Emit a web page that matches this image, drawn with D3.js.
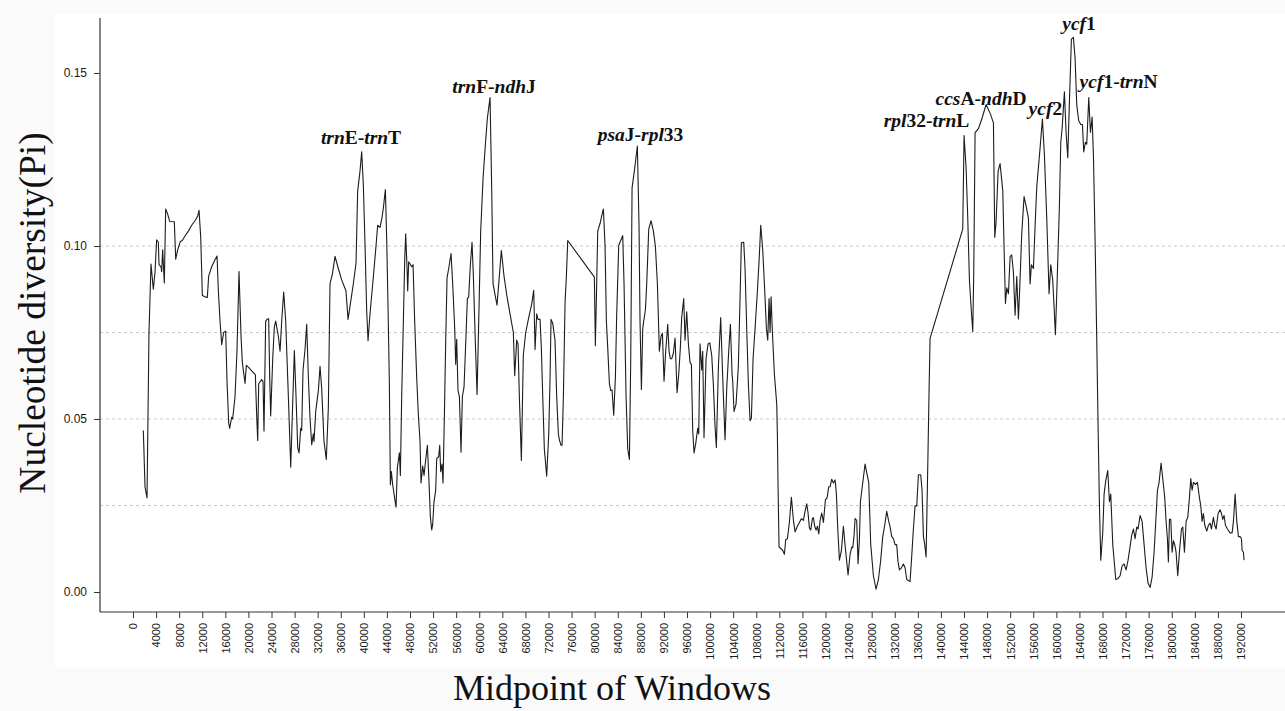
<!DOCTYPE html>
<html>
<head>
<meta charset="utf-8">
<script src="https://cdn.jsdelivr.net/npm/d3@7"></script>
<style>
  html, body { margin: 0; padding: 0; background: #ffffff; }
  svg { display: block; }
  .serif { font-family: "Liberation Serif", "Times New Roman", Times, serif; }
  .sans { font-family: "Liberation Sans", Arial, Helvetica, sans-serif; }
</style>
</head>
<body>
<svg id="chart" width="1285" height="711"></svg>
<script>
// ---------------- DATA ----------------
// Midpoint of each sliding window (bp)
const windowMidpoints = [
  1790,2080,2430,2770,3120,3520,3810,4100,4390,4510,4850,4970,5140,5430,5660,6010,6360,7160,7400,7740,
  8200,8550,9010,9590,10170,10860,11210,11440,11730,12020,12480,12880,13110,13630,14210,14560,14790,15080,15370,15710,
  16060,16290,16580,16750,17100,17270,17680,18020,18370,18720,18950,19410,19640,19990,20570,21200,21430,21610,21780,22300,
  22530,22700,22990,23220,23510,23690,23860,24210,24490,24730,25190,25480,25770,26110,26460,26920,27330,27610,27960,28250,
  28540,28770,29060,29230,29460,29810,30100,30390,30680,30970,31250,31370,31660,32120,32410,32700,
  33100,33500,33850,34140,34540,35010,35580,36160,36910,37260,37610,38180,38650,38930,39340,39630,39920,40210,40490,40730,
  41070,41540,42000,42400,42810,43150,43380,43730,43960,44190,44420,44600,44770,45000,45290,45580,45810,46160,46330,46560,
  46850,47080,47250,47490,47600,47770,48010,48290,48530,48810,49160,49450,49740,49910,50200,50430,50780,51010,51300,51530,
  51760,51930,52160,52450,52630,52970,53150,53320,53550,53720,53960,54190,54420,54760,55110,55400,55750,55920,56090,56320,
  56560,56840,57080,57360,57650,57940,58170,58460,58750,58980,59330,59620,59910,60250,60660,61060,61410,61870,62160,62390,
  62740,63080,63430,63830,
  64290,64760,65330,65910,66140,66490,66720,66950,67300,67640,68050,68570,69090,69440,69670,69960,70190,70530,70760,71000,
  71280,71690,72040,72270,72440,72730,73130,73420,73710,73880,74170,74350,74580,74870,75100,75330,79950,80120,80350,80530,
  80930,81220,81510,81800,82030,82260,82550,82780,83010,83300,83590,83820,84170,84570,84860,85090,85440,85730,86020,86250,
  86480,86880,87400,87690,87860,88100,88330,88500,88790,89020,89370,89770,90180,90520,90870,91210,91500,91740,92020,92310,
  92660,92890,93120,93350,93640,93930,94280,94570,94850,
  95080,95430,95660,95950,96240,96530,96760,96990,97220,97510,97860,98030,98260,98550,98720,98950,99300,99650,99940,100280,
  100570,100860,101090,101440,101840,102190,102590,102880,103230,103520,103810,103920,104150,104500,104900,105190,105420,105830,106060,106350,
  106640,106930,107160,107450,107790,108200,108490,108780,109120,109470,109760,109990,110220,110390,110570,110800,111140,111550,111660,111780,
  111950,112300,112590,112880,113110,113400,113740,114090,114440,114730,115130,115480,115820,116170,116460,116750,116980,117210,117440,117730,
  117900,118130,118370,118600,118830,119060,119350,119640,119980,120270,120560,120790,121080,121370,121660,121890,122120,122410,122760,123100,
  123390,123680,123910,124260,124550,124720,124950,125120,125410,125640,125880,126050,126450,126860,
  127140,127490,127840,128300,128760,129170,129570,129920,130260,130610,130960,131190,131480,131770,132050,132340,132570,132810,133150,133500,
  133790,134080,134650,134940,135230,135520,135810,136100,136500,136730,136970,137200,137430,137720,137950,138120,143780,144010,144360,144650,
  144940,145230,145520,145690,145920,146500,147080,147830,148520,149100,149330,149560,149910,150250,150720,150950,151180,151410,151700,151990,
  152270,152560,152850,153140,153430,153660,154010,154410,154760,155160,155450,155680,156030,156320,156610,157180,157590,157940,158340,158740,
  159030,159380,159840,160190,160530,160770,161000,161400,161690,161980,162270,162610,162960,163250,163540,163880,164230,164520,164750,165040,
  165270,165620,165910,166200,166430,166720,167000,167240,167470,167700,168040,168280,168560,168910,169200,169430,169780,170010,170300,170640,
  171050,171390,171740,172090,172430,172780,173070,173360,173650,173940,174170,174510,174860,175210,175550,175900,176250,176590,176940,177230,
  177520,177810,178150,178440,178790,179020,179250,179420,179600,179830,180060,180290,180520,180750,181040,181330,181680,181910,182200,182490,
  182780,183060,183300,183530,183760,184100,184450,184800,185030,185260,185490,185720,186070,186360,186650,186880,187220,187450,187690,188030,
  188380,188610,188840,189070,189300,189650,190110,190460,190690,190980,191270,191560,191850,192080,192190,192420,192540
];

// Nucleotide diversity (Pi) of each window
const piValues = [
  .0467,.0304,.0272,.0750,.0948,.0875,.0924,.1018,.1011,.0946,.0940,.0926,.0989,.0893,.1107,.1092,.1071,.1070,.0962,.0989,
  .1013,.1016,.1029,.1043,.1060,.1076,.1087,.1103,.1027,.0857,.0853,.0851,.0913,.0940,.0960,.0971,.0870,.0783,.0715,.0750,
  .0754,.0609,.0489,.0473,.0505,.0500,.0565,.0696,.0926,.0739,.0663,.0603,.0655,.0650,.0639,.0628,.0511,.0438,.0602,.0614,
  .0609,.0465,.0783,.0788,.0790,.0620,.0509,.0674,.0766,.0783,.0739,.0696,.0783,.0867,.0783,.0565,.0361,.0511,.0698,.0565,
  .0418,.0402,.0473,.0467,.0641,.0701,.0774,.0620,.0500,.0426,.0457,.0435,.0522,.0582,.0652,.0587,
  .0435,.0383,.0533,.0891,.0918,.0970,.0935,.0902,.0870,.0788,.0826,.0891,.0951,.1158,.1217,.1272,.1174,.1000,.0815,.0726,
  .0804,.0891,.0978,.1060,.1054,.1082,.1109,.1163,.1022,.0826,.0609,.0310,.0348,.0310,.0277,.0245,.0359,.0402,.0337,.0565,
  .0783,.0957,.1035,.0935,.0870,.0954,.0948,.0940,.0946,.0783,.0620,.0511,.0435,.0315,.0364,.0337,.0391,.0424,.0315,.0217,
  .0179,.0196,.0261,.0293,.0386,.0391,.0424,.0348,.0370,.0315,.0511,.0728,.0908,.0940,.0978,.0891,.0761,.0658,.0730,.0582,
  .0565,.0404,.0565,.0592,.0717,.0848,.0853,.0946,.1011,.0913,.0717,.0571,.0783,.1043,.1196,.1293,.1370,.1429,.1163,.0891,
  .0859,.0829,.0902,.0987,
  .0913,.0859,.0804,.0750,.0625,.0728,.0717,.0565,.0380,.0685,.0750,.0793,.0832,.0872,.0701,.0804,.0788,.0788,.0707,.0565,
  .0413,.0335,.0457,.0620,.0788,.0777,.0728,.0565,.0457,.0440,.0424,.0424,.0565,.0837,.0913,.1016,.0910,.0712,.0891,.1043,
  .1065,.1087,.1107,.1000,.0783,.0707,.0603,.0582,.0584,.0511,.0620,.0804,.1002,.1018,.1030,.0891,.0565,.0413,.0383,.0674,
  .1168,.1217,.1289,.1054,.0783,.0585,.0761,.0783,.0815,.0891,.1049,.1073,.1043,.1000,.0891,.0696,.0739,.0748,.0609,.0696,
  .0774,.0696,.0674,.0674,.0690,.0734,.0576,.0630,.0707,
  .0793,.0848,.0728,.0810,.0717,.0663,.0658,.0467,.0402,.0429,.0473,.0457,.0717,.0641,.0696,.0446,.0674,.0717,.0720,.0685,
  .0598,.0478,.0418,.0652,.0793,.0620,.0440,.0587,.0696,.0774,.0630,.0609,.0522,.0543,.0652,.0848,.1009,.1011,.0935,.0761,
  .0598,.0495,.0502,.0674,.0761,.0870,.0957,.1060,.0989,.0870,.0761,.0728,.0848,.0750,.0853,.0750,.0630,.0543,.0457,.0304,
  .0130,.0125,.0120,.0109,.0152,.0154,.0201,.0274,.0207,.0174,.0190,.0201,.0212,.0207,.0234,.0255,.0228,.0185,.0179,.0212,
  .0215,.0190,.0179,.0190,.0168,.0207,.0228,.0201,.0266,.0272,.0304,.0304,.0326,.0315,.0324,.0283,.0185,.0092,.0120,.0190,
  .0136,.0087,.0049,.0109,.0130,.0128,.0163,.0212,.0207,.0082,.0152,.0261,.0315,.0370,
  .0345,.0317,.0137,.0047,.0008,.0036,.0092,.0160,.0193,.0233,.0204,.0188,.0160,.0154,.0137,.0137,.0087,.0064,.0070,.0081,
  .0070,.0036,.0030,.0103,.0182,.0249,.0249,.0339,.0339,.0294,.0160,.0137,.0101,.0362,.0587,.0733,.1049,.1319,.1227,.1081,
  .0901,.0822,.0753,.0924,.1328,.1339,.1367,.1409,.1384,.1356,.1025,.1070,.1216,.1238,.1160,.0991,.0834,.0879,.0862,.0969,
  .0974,.0924,.0800,.0912,.0789,.0879,.1036,.1143,.1115,.1081,.0890,.0946,.0935,.1058,.1171,.1283,.1367,.1261,.1081,.0862,
  .0946,.0901,.0744,.0924,.1115,.1300,.1339,.1446,.1328,.1255,.1418,.1598,.1603,.1542,.1407,.1362,.1351,.1351,.1272,.1300,
  .1294,.1429,.1328,.1373,.1261,.1013,.0733,.0474,.0249,.0092,.0171,.0283,.0322,.0351,.0261,.0283,.0137,.0092,.0036,.0038,
  .0047,.0075,.0081,.0064,.0092,.0131,.0165,.0182,.0154,.0188,.0182,.0221,.0204,.0137,.0070,.0025,.0013,.0042,.0115,.0204,
  .0294,.0317,.0373,.0328,.0272,.0204,.0154,.0087,.0210,.0210,.0115,.0148,.0137,.0115,.0047,.0115,.0182,.0188,.0115,.0204,
  .0216,.0272,.0328,.0294,.0317,.0311,.0317,.0272,.0249,.0204,.0227,.0193,.0176,.0193,.0199,.0182,.0216,.0193,.0182,.0227,
  .0238,.0227,.0210,.0221,.0193,.0182,.0171,.0171,.0204,.0283,.0204,.0160,.0160,.0154,.0120,.0115,.0092
];

// Axis ticks
const xTickValues = d3.range(0, 192001, 4000);
const yTickValues = [0, 0.05, 0.10, 0.15];
const gridValues = [0.025, 0.05, 0.075, 0.10];

// Hot-spot labels: text pieces [text, italic] and anchor (bp, Pi) of their baseline centre
const labelParts = [
  [["trn", true], ["E-", false], ["trn", true], ["T", false]],
  [["trn", true], ["F-", false], ["ndh", true], ["J", false]],
  [["psa", true], ["J-", false], ["rpl", true], ["33", false]],
  [["rpl", true], ["32-", false], ["trn", true], ["L", false]],
  [["ccs", true], ["A-", false], ["ndh", true], ["D", false]],
  [["ycf", true], ["2", false]],
  [["ycf", true], ["1", false]],
  [["ycf", true], ["1-", false], ["trn", true], ["N", false]]
];
const labelBp = [39510, 62560, 87950, 137510, 146960, 158100, 163940, 170790];
const labelPi = [0.1295, 0.1443, 0.1304, 0.1344, 0.1408, 0.1379, 0.1624, 0.1457];

const xTitle = "Midpoint of Windows";
const yTitle = "Nucleotide diversity(Pi)";

// ---------------- DRAW ----------------
const W = 1285, H = 711;
const svg = d3.select("#chart");

// subtle page tone with white panel
svg.append("rect").attr("width", W).attr("height", H).attr("fill", "#fafafa");
svg.append("rect").attr("x", 55).attr("y", 14).attr("width", W - 55).attr("height", 654).attr("fill", "#ffffff");

const x = d3.scaleLinear().domain([0, 192000]).range([133, 1241]);
const y = d3.scaleLinear().domain([0, 0.15]).range([592, 73]);

const axisX0 = 100, axisY0 = 612, axisTop = 18;

// grid
svg.append("g").selectAll("line").data(gridValues).join("line")
  .attr("x1", axisX0).attr("x2", W)
  .attr("y1", d => y(d)).attr("y2", d => y(d))
  .attr("stroke", "#c9c9c9").attr("stroke-width", 1)
  .attr("stroke-dasharray", "3,3");

// y axis
const gy = svg.append("g").attr("transform", `translate(${axisX0},0)`)
  .call(d3.axisLeft(y).tickValues(yTickValues).tickFormat(d3.format(".2f")).tickSize(6).tickPadding(7));
gy.select(".domain").remove();
gy.attr("font-family", null);
gy.selectAll(".tick line").attr("stroke", "#333");
gy.selectAll(".tick text").attr("class", "sans")
  .attr("font-size", 12).attr("fill", "#1a1a1a");
svg.append("line").attr("x1", axisX0).attr("x2", axisX0).attr("y1", axisTop).attr("y2", axisY0)
  .attr("stroke", "#333").attr("stroke-width", 1.2);

// x axis
const gx = svg.append("g").attr("transform", `translate(0,${axisY0})`)
  .call(d3.axisBottom(x).tickValues(xTickValues).tickFormat(d => String(d)).tickSize(6));
gx.select(".domain").remove();
gx.attr("font-family", null);
gx.selectAll(".tick line").attr("stroke", "#333");
gx.selectAll(".tick text")
  .attr("class", "sans")
  .attr("transform", "rotate(-90)")
  .attr("x", -11).attr("y", 0).attr("dy", "0.35em")
  .style("text-anchor", "end")
  .attr("font-size", 11).attr("fill", "#1a1a1a");
svg.append("line").attr("x1", axisX0).attr("x2", W).attr("y1", axisY0).attr("y2", axisY0)
  .attr("stroke", "#333").attr("stroke-width", 1.2);

// line
const pts = windowMidpoints.map((bp, i) => ({ bp, pi: piValues[i] }));
svg.append("path").datum(pts)
  .attr("fill", "none").attr("stroke", "#1c1c1c").attr("stroke-width", 1.1)
  .attr("stroke-linejoin", "round")
  .attr("d", d3.line().x(d => x(d.bp)).y(d => y(d.pi)));

// labels
labelParts.forEach((parts, i) => {
  const t = svg.append("text")
    .attr("class", "serif")
    .attr("x", x(labelBp[i])).attr("y", y(labelPi[i]))
    .attr("text-anchor", "middle")
    .attr("font-weight", "bold").attr("font-size", 19.5).attr("fill", "#111");
  parts.forEach(([s, it]) => t.append("tspan").text(s).attr("font-style", it ? "italic" : "normal"));
});

// titles
svg.append("text").attr("class", "serif")
  .attr("x", 612).attr("y", 700).attr("text-anchor", "middle")
  .attr("font-size", 36).attr("fill", "#111").text(xTitle);
svg.append("text").attr("class", "serif")
  .attr("transform", "translate(45,313) rotate(-90)").attr("text-anchor", "middle")
  .attr("font-size", 37.5).attr("fill", "#111").text(yTitle);
</script>
</body>
</html>
